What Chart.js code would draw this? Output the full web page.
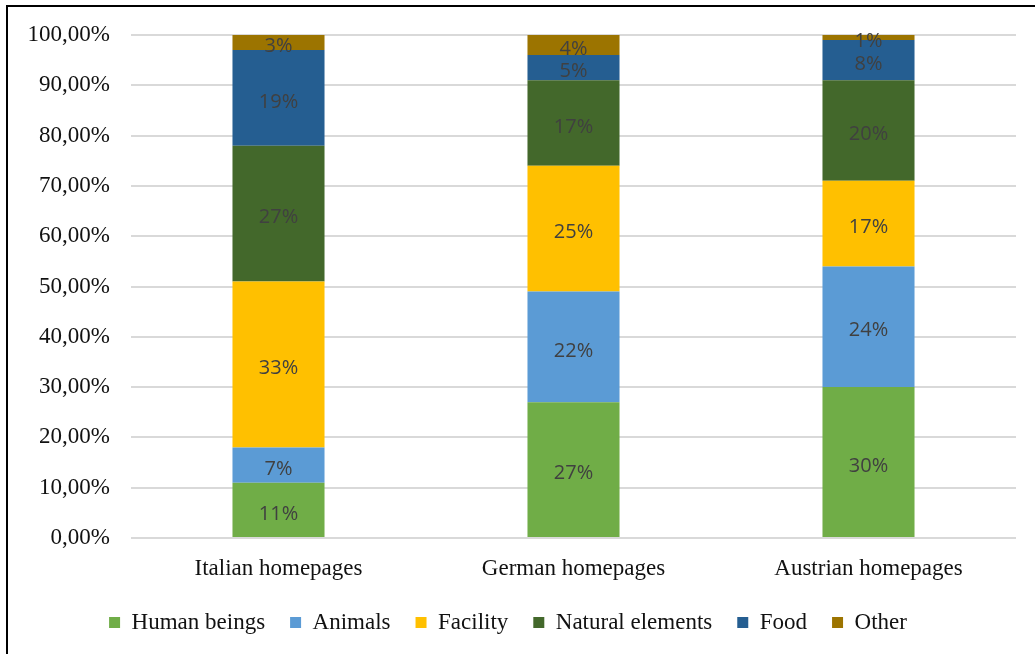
<!DOCTYPE html>
<html>
<head>
<meta charset="utf-8">
<script src="https://cdn.jsdelivr.net/npm/chart.js@4"></script>
<style>
    body { margin: 0; background: #fff; }
    #wrap { position: relative; width: 1035px; height: 654px; }
    #frame { position: absolute; left: 6px; top: 5px; width: 1040px; height: 660px;
             border-left: 2px solid #000; border-top: 2px solid #000; }
    canvas { position: absolute; left: 0; top: 0; }
</style>
</head>
<body>
<div id="wrap">
    <div id="frame"></div>
    <canvas id="chart" width="1035" height="654"></canvas>
</div>
<script>
// Share of image motifs per homepage group (percent)
const categories = ['Italian homepages', 'German homepages', 'Austrian homepages'];
const humanBeings = [11, 27, 30];
const animals = [7, 22, 24];
const facility = [33, 25, 17];
const naturalElements = [27, 17, 20];
const food = [19, 5, 8];
const other = [3, 4, 1];

const serif = "'Liberation Serif', 'Times New Roman', serif";

// Write the value in the middle of each segment
const segmentLabels = {
    id: 'segmentLabels',
    afterDatasetsDraw(chart) {
        const ctx = chart.ctx;
        ctx.save();
        ctx.font = "20px 'Open Sans', 'Liberation Sans', sans-serif";
        ctx.fillStyle = '#404040';
        ctx.textAlign = 'center';
        ctx.textBaseline = 'middle';
        chart.data.datasets.forEach((ds, i) => {
            chart.getDatasetMeta(i).data.forEach((bar, j) => {
                const mid = (bar.y + bar.base) / 2;
                ctx.fillText(ds.data[j] + '%', bar.x, mid + 4);
            });
        });
        ctx.restore();
    }
};

function makeSet(label, data, color) {
    return { label: label, data: data, backgroundColor: color, borderWidth: 0 };
}

const ctx = document.getElementById('chart').getContext('2d');
new Chart(ctx, {
    type: 'bar',
    data: {
        labels: categories,
        datasets: [
            makeSet('Human beings', humanBeings, '#70AD47'),
            makeSet('Animals', animals, '#5B9BD5'),
            makeSet('Facility', facility, '#FFC000'),
            makeSet('Natural elements', naturalElements, '#43682B'),
            makeSet('Food', food, '#255E91'),
            makeSet('Other', other, '#9C7400')
        ]
    },
    options: {
        responsive: false,
        animation: false,
        layout: { padding: { top: 35, right: 19, bottom: 10, left: 0 } },
        datasets: { bar: { categoryPercentage: 1, barPercentage: 0.312 } },
        scales: {
            x: {
                stacked: true,
                grid: { display: false },
                border: { display: false },
                ticks: { color: '#111', font: { family: serif, size: 23 }, padding: 9 },
                afterFit(scale) { scale.height = 48; }
            },
            y: {
                stacked: true,
                min: 0,
                max: 100,
                border: { display: false },
                grid: { color: '#d9d9d9', lineWidth: 2, drawTicks: false },
                ticks: {
                    stepSize: 10,
                    color: '#111',
                    padding: 21,
                    font: { family: serif, size: 23 },
                    callback: v => v.toFixed(2).replace('.', ',') + '%'
                },
                afterFit(scale) { scale.width = 131; }
            }
        },
        plugins: {
            tooltip: { enabled: false },
            legend: {
                position: 'bottom',
                labels: {
                    color: '#111',
                    font: { family: serif, size: 23 },
                    boxWidth: 11,
                    boxHeight: 11,
                    padding: 25
                }
            }
        }
    },
    plugins: [segmentLabels]
});
</script>
</body>
</html>
